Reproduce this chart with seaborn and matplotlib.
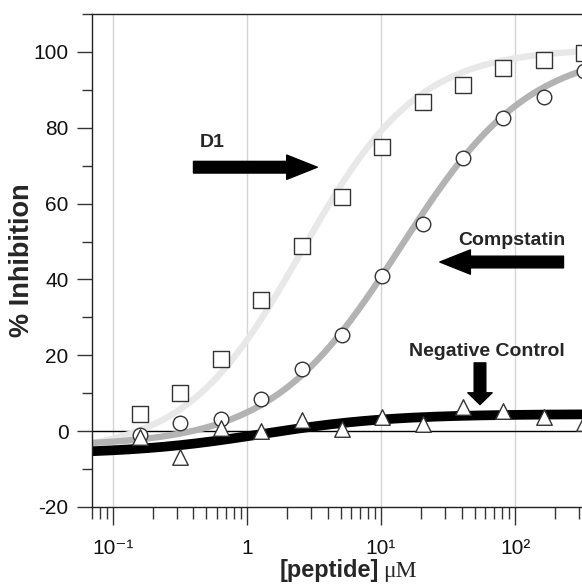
import numpy as np
import pandas as pd
import matplotlib
matplotlib.use("Agg")
import matplotlib.pyplot as plt
import seaborn as sns
from matplotlib.ticker import FixedLocator, FixedFormatter, NullFormatter

# ---- data ----
conc = [0.16, 0.32, 0.64, 1.28, 2.56, 5.12, 10.24, 20.48, 40.96, 81.92, 163.84, 327.68]
d1 = [4.6, 10.0, 19.0, 34.6, 48.8, 61.7, 75.0, 86.8, 91.3, 95.8, 98.0, 99.7]
compstatin = [-1.0, 2.2, 3.2, 8.4, 16.4, 25.3, 41.0, 54.5, 72.0, 82.6, 88.2, 95.0]
negative = [-1.6, -6.8, 0.8, 0.0, 2.9, 0.5, 3.8, 1.8, 6.3, 5.4, 3.8, 2.2]

# fitted 4-parameter logistic curves: bottom, top, IC50, hill
fit_d1 = [-6.0, 101.0, 2.57, 1.0]
fit_comp = [-4.0, 101.0, 14.0, 0.9]
fit_neg = [-6.0, 4.5, 1.3, 0.9]

xtick_vals = [0.1, 1, 10, 100]
xtick_labels = ["10\u207b\u00b9", "1", "10\u00b9", "10\u00b2"]
ytick_vals = [-20, 0, 20, 40, 60, 80, 100]

sns.set_style("ticks")
plt.rcParams["font.family"] = ["Liberation Sans", "DejaVu Sans"]
plt.rcParams["axes.unicode_minus"] = False

def logistic(x, p):
    b, t, ic, h = p
    return b + (t - b) / (1.0 + (ic / x) ** h)

W, H = 582, 586
fig = plt.figure(figsize=(W / 100, H / 100), dpi=100)
ax = fig.add_axes([92 / W, 1 - 507 / H, 1 - 92 / W, (507 - 14) / H])

xs = np.logspace(np.log10(0.07), np.log10(330), 300)
curves = pd.DataFrame({
    "x": np.concatenate([xs, xs, xs]),
    "y": np.concatenate([logistic(xs, fit_d1), logistic(xs, fit_comp), logistic(xs, fit_neg)]),
    "series": ["D1"] * len(xs) + ["Compstatin"] * len(xs) + ["Negative"] * len(xs),
})

ax.axhline(0, color="black", lw=1.0, zorder=1)

for name, col, lw in [("D1", "#e8e8e8", 4.6), ("Compstatin", "#b3b3b3", 4.6), ("Negative", "black", 7.0)]:
    sub = curves[curves.series == name]
    sns.lineplot(data=sub, x="x", y="y", color=col, linewidth=lw, ax=ax, zorder=2,
                 solid_capstyle="butt")

edge = "#333333"
sns.scatterplot(x=conc, y=d1, marker="s", s=125, facecolor="white", edgecolor=edge,
                linewidth=1.0, ax=ax, zorder=5, clip_on=False)
sns.scatterplot(x=conc, y=compstatin, marker="o", s=110, facecolor="white", edgecolor=edge,
                linewidth=1.0, ax=ax, zorder=5, clip_on=False)
sns.scatterplot(x=conc, y=negative, marker="^", s=125, facecolor="white", edgecolor=edge,
                linewidth=1.0, ax=ax, zorder=6, clip_on=False)

ax.set_xscale("log")
ax.set_xlim(0.07, 316)
ax.set_ylim(-20, 110)

ax.xaxis.set_major_locator(FixedLocator(xtick_vals))
ax.xaxis.set_major_formatter(FixedFormatter(xtick_labels))
minors = [m * 10.0 ** e for e in range(-2, 3) for m in range(2, 10)]
ax.xaxis.set_minor_locator(FixedLocator(minors))
ax.xaxis.set_minor_formatter(NullFormatter())
ax.yaxis.set_major_locator(FixedLocator(ytick_vals))
ax.yaxis.set_minor_locator(FixedLocator([-10, 10, 30, 50, 70, 90, 110]))

ax.grid(axis="x", which="major", color="#d4d4d4", lw=1.0)
ax.set_axisbelow(True)

for s in ["left", "bottom", "top"]:
    ax.spines[s].set_color("#222222")
    ax.spines[s].set_linewidth(1.0)
ax.spines["right"].set_visible(False)

ax.tick_params(axis="both", which="both", direction="out", width=1.0, color="#333333",
               labelsize=15, labelcolor="#111111")
ax.tick_params(axis="x", which="major", length=13, pad=10)
ax.tick_params(axis="x", which="minor", length=8.6)
ax.tick_params(axis="y", which="major", length=10.8, pad=6)
ax.tick_params(axis="y", which="minor", length=7.2)

ax.set_ylabel("% Inhibition", fontsize=19.5, fontweight="bold")
ax.yaxis.set_label_coords(-(92 - 35) / 490, (507 - 260) / 493)
ax.set_xlabel("")

# x-axis title: bold sans part plus serif unit
fig.text(379 / W, 1 - 577 / H, "[peptide]", fontsize=17, fontweight="bold",
         ha="right", va="baseline")
fig.text(383 / W, 1 - 577 / H, "\u03bcM", fontsize=17, family=["Liberation Serif", "DejaVu Serif"],
         ha="left", va="baseline")

# annotations
def arrow(x0, y0, x1, y1, hl):
    ax.annotate("", xy=(x1, y1), xytext=(x0, y0),
                arrowprops=dict(arrowstyle=f"simple,head_length={hl},head_width=17.5,tail_width=8.4",
                                mutation_scale=1, color="black", shrinkA=0, shrinkB=0),
                zorder=7)

arrow(0.40, 69.6, 3.35, 69.6, 22)
ax.text(0.55, 76.0, "D1", fontsize=14, fontweight="bold", ha="center", va="center")

arrow(230, 44.6, 27.5, 44.6, 22)
ax.text(95, 50.4, "Compstatin", fontsize=14, fontweight="bold", ha="center", va="center")

arrow(54.8, 18.0, 54.8, 7.0, 8.5)
ax.text(62, 21.0, "Negative Control", fontsize=14, fontweight="bold", ha="center", va="center")

fig.savefig("out.png", dpi=100)
